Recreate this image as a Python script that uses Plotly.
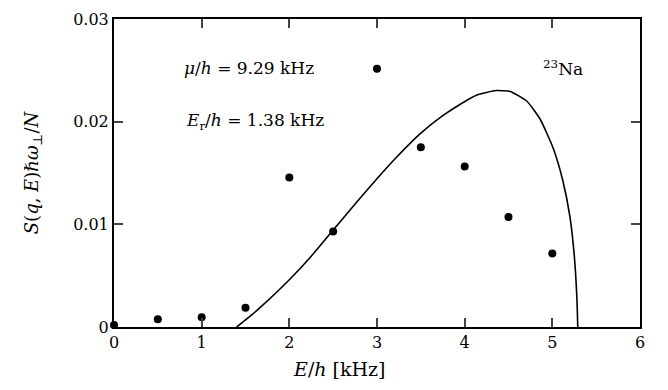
import plotly.graph_objects as go

# measured data points
data_E = [0.0, 0.5, 1.0, 1.5, 2.0, 2.5, 3.0, 3.5, 4.0, 4.5, 5.0]
data_S = [0.0002, 0.00076, 0.00095, 0.00187, 0.01457, 0.00929, 0.02515, 0.0175, 0.01564, 0.01071, 0.00717]

# theory curve
curve_E = [1.40, 1.55, 1.70, 2.00, 2.25, 2.49, 2.70, 2.90, 3.05, 3.22, 3.49, 3.75, 3.95, 4.14,
           4.36, 4.52, 4.71, 4.86, 5.01, 5.12, 5.20, 5.25, 5.28, 5.29]
curve_S = [0.0, 0.00103, 0.00215, 0.0046, 0.0069, 0.00935, 0.01147, 0.01347, 0.01493, 0.01651,
           0.01881, 0.02058, 0.0217, 0.0226, 0.02303, 0.02294, 0.02199, 0.02026, 0.01741,
           0.01425, 0.01078, 0.00699, 0.00287, 0.0]

x_ticks = [0, 1, 2, 3, 4, 5, 6]
y_ticks = [0, 0.01, 0.02, 0.03]
y_tick_text = ["0", "0.01", "0.02", "0.03"]

FONT = "DejaVu Serif"
FS_TICK = 16
FS_TEXT = 17
FS_TITLE = 18

fig = go.Figure()
fig.add_trace(go.Scatter(x=curve_E, y=curve_S, mode="lines",
                         line=dict(color="black", width=1.6, shape="spline", smoothing=0.5),
                         cliponaxis=False, showlegend=False))
fig.add_trace(go.Scatter(x=data_E, y=data_S, mode="markers",
                         marker=dict(color="black", size=8), cliponaxis=False,
                         showlegend=False))

fig.update_layout(
    width=668, height=390,
    margin=dict(l=114, r=28, t=10, b=63),
    paper_bgcolor="white", plot_bgcolor="white",
    font=dict(family=FONT, size=FS_TICK, color="black"),
    xaxis=dict(range=[0, 6], tickvals=x_ticks, ticks="inside", ticklen=9, tickwidth=2,
               showline=True, linewidth=2, linecolor="black", mirror="allticks",
               showgrid=False, zeroline=False, tickfont=dict(size=FS_TICK, family=FONT)),
    yaxis=dict(range=[0, 0.03], tickvals=y_ticks, ticktext=y_tick_text, ticks="inside",
               ticklen=9, tickwidth=2, showline=True, linewidth=2, linecolor="black",
               mirror="allticks", showgrid=False, zeroline=False,
               tickfont=dict(size=FS_TICK, family=FONT),
               title=dict(text="<i>S</i>(<i>q</i>, <i>E</i>)ℏ<i>ω</i><sub>⊥</sub>/<i>N</i>",
                          font=dict(size=FS_TITLE, family=FONT), standoff=30)),
)

fig.add_annotation(x=0.428, y=-0.136, xref="paper", yref="paper", yanchor="middle",
                   text="<i>E</i>/<i>h</i> [kHz]", showarrow=False,
                   font=dict(size=19, family=FONT))
fig.add_annotation(x=0.78, y=0.0252, xref="x", yref="y", xanchor="left", yanchor="middle",
                   text="<i>μ</i>/<i>h</i> = 9.29 kHz", showarrow=False,
                   font=dict(size=FS_TEXT, family=FONT))
fig.add_annotation(x=0.80, y=0.0200, xref="x", yref="y", xanchor="left", yanchor="middle",
                   text="<i>E</i><sub>r</sub>/<i>h</i> = 1.38 kHz", showarrow=False,
                   font=dict(size=FS_TEXT, family=FONT))
fig.add_annotation(x=4.87, y=0.0252, xref="x", yref="y", xanchor="left", yanchor="middle",
                   text="<sup>23</sup>Na", showarrow=False,
                   font=dict(size=FS_TEXT, family=FONT))

fig.write_html("out.html")
